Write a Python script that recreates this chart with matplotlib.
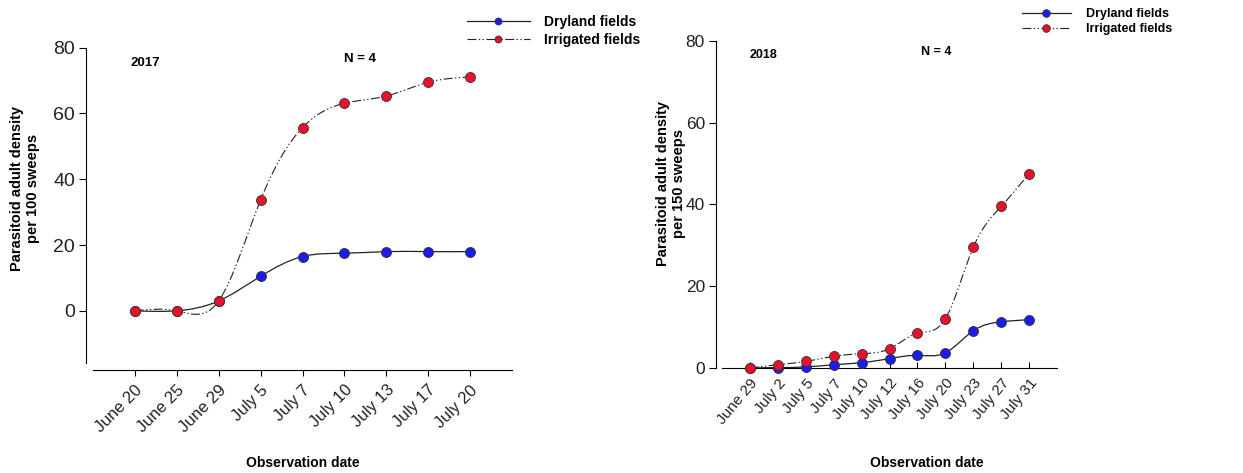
import numpy as np
import matplotlib
matplotlib.use("Agg")
import matplotlib.pyplot as plt
from matplotlib.path import Path
from matplotlib.patches import PathPatch
from matplotlib.lines import Line2D

# ---------------- data ----------------
dates_2017 = ["June 20", "June 25", "June 29", "July 5", "July 7", "July 10",
              "July 13", "July 17", "July 20"]
dryland_2017 = [0, 0, 3.0, 10.5, 16.5, 17.5, 18.0, 18.0, 18.0]
irrigated_2017 = [0, 0, 3.0, 33.7, 55.7, 63.1, 65.3, 69.5, 71.1]

dates_2018 = ["June 29", "July 2", "July 5", "July 7", "July 10", "July 12",
              "July 16", "July 20", "July 23", "July 27", "July 31"]
dryland_2018 = [0, 0.1, 0.25, 0.8, 1.3, 2.3, 3.1, 3.7, 9.1, 11.3, 11.8]
irrigated_2018 = [0, 0.8, 1.6, 2.85, 3.5, 4.7, 8.5, 12.0, 29.5, 39.5, 47.5]

BLUE = "#1c1ce8"
RED = "#e8102a"
IRR_DASH = (0, (8, 2.2, 1.2, 2.2, 1.2, 2.2))

W, H = 1243, 473
fig = plt.figure(figsize=(W / 100, H / 100), dpi=100)
plt.rcParams['font.family'] = ['Liberation Sans', 'DejaVu Sans']


def px(x, y):
    return x / W, 1 - y / H


def spline_path(x, y):
    """Smooth natural cubic spline through the points, as Bezier segments."""
    x = np.asarray(x, float)
    y = np.asarray(y, float)
    n = len(x)
    h = np.diff(x)
    A = np.zeros((n, n))
    b = np.zeros(n)
    A[0, 0] = 1
    A[-1, -1] = 1
    for i in range(1, n - 1):
        A[i, i - 1] = h[i - 1]
        A[i, i] = 2 * (h[i - 1] + h[i])
        A[i, i + 1] = h[i]
        b[i] = 6 * ((y[i + 1] - y[i]) / h[i] - (y[i] - y[i - 1]) / h[i - 1])
    M = np.linalg.solve(A, b)
    d = np.zeros(n)
    for i in range(n - 1):
        d[i] = (y[i + 1] - y[i]) / h[i] - h[i] * (2 * M[i] + M[i + 1]) / 6
    d[-1] = (y[-1] - y[-2]) / h[-1] + h[-1] * (M[-2] + 2 * M[-1]) / 6
    verts = [(x[0], y[0])]
    codes = [Path.MOVETO]
    for i in range(n - 1):
        verts += [(x[i] + h[i] / 3, y[i] + d[i] * h[i] / 3),
                  (x[i + 1] - h[i] / 3, y[i + 1] - d[i + 1] * h[i] / 3),
                  (x[i + 1], y[i + 1])]
        codes += [Path.CURVE4] * 3
    return Path(verts, codes)


def draw_series(ax, y, color, ls, lw):
    x = np.arange(len(y))
    ax.add_patch(PathPatch(spline_path(x, y), fill=False, edgecolor="#222222",
                           linestyle=ls, linewidth=lw, zorder=2))
    ax.plot(x, y, linestyle="none", marker="o", markersize=7.2,
            markerfacecolor=color, markeredgecolor="#333333",
            markeredgewidth=0.6, zorder=3, clip_on=False)


def style_axes(ax, labels, ylim, left_bounds, out_px, fs_x, rot, fs_y, xdir):
    ax.set_xlim(-1, len(labels))
    ax.set_ylim(*ylim)
    ax.set_xticks(np.arange(len(labels)))
    ax.set_xticklabels(labels, rotation=rot, ha="right", rotation_mode="anchor",
                       fontsize=fs_x)
    ax.set_yticks([0, 20, 40, 60, 80])
    ax.tick_params(axis="y", labelsize=fs_y, length=5, width=0.8, pad=3,
                   labelcolor="#222222")
    ax.tick_params(axis="x", length=4, width=0.8, pad=6 if xdir == "in" else 5,
                   labelcolor="#222222", direction=xdir)
    for s in ("top", "right"):
        ax.spines[s].set_visible(False)
    ax.spines["left"].set_position(("outward", out_px * 0.72))
    ax.spines["left"].set_bounds(*left_bounds)
    ax.spines["left"].set_linewidth(0.8)
    ax.spines["bottom"].set_linewidth(0.8)


# ---------------- 2017 panel ----------------
ax1 = fig.add_axes([93 / W, 103 / H, (512 - 93) / W, (370 - 47.7) / H])
draw_series(ax1, dryland_2017, BLUE, "-", 0.9)
draw_series(ax1, irrigated_2017, RED, IRR_DASH, 0.8)
style_axes(ax1, dates_2017, (-18, 80), (-16, 80), 7, 12, 45, 14, "out")

# ---------------- 2018 panel ----------------
ax2 = fig.add_axes([722 / W, 105 / H, (1057 - 722) / W, (368 - 40.7) / H])
draw_series(ax2, dryland_2018, BLUE, "-", 0.9)
draw_series(ax2, irrigated_2018, RED, IRR_DASH, 0.8)
style_axes(ax2, dates_2018, (0, 80), (0, 80), 6, 11, 50, 12.5, "in")

# ---------------- texts ----------------
fig.text(*px(145, 63), "2017", fontsize=9.5, fontweight="bold", ha="center", va="center")
fig.text(*px(360, 59), "N = 4", fontsize=9.5, fontweight="bold", ha="center", va="center")
fig.text(*px(763, 55), "2018", fontsize=9, fontweight="bold", ha="center", va="center")
fig.text(*px(936, 52), "N = 4", fontsize=9, fontweight="bold", ha="center", va="center")

fig.text(*px(25, 188), "Parasitoid adult density\nper 100 sweeps", rotation=90,
         fontsize=10.5, fontweight="bold", ha="center", va="center",
         multialignment="center", linespacing=1.15)
fig.text(*px(671, 184), "Parasitoid adult density\nper 150 sweeps", rotation=90,
         fontsize=10.5, fontweight="bold", ha="center", va="center",
         multialignment="center", linespacing=1.15)

fig.text(*px(303, 463), "Observation date", fontsize=10, fontweight="bold",
         ha="center", va="center")
fig.text(*px(927, 463), "Observation date", fontsize=10, fontweight="bold",
         ha="center", va="center")

# ---------------- legends ----------------
def handles(ms):
    h1 = Line2D([], [], color="#222222", lw=0.9, ls="-", marker="o", markersize=ms,
                markerfacecolor=BLUE, markeredgecolor="#333333", markeredgewidth=0.6)
    h2 = Line2D([], [], color="#222222", lw=0.8, ls=IRR_DASH, marker="o", markersize=ms,
                markerfacecolor=RED, markeredgecolor="#333333", markeredgewidth=0.6)
    return [h1, h2]

labels_leg = ["Dryland fields", "Irrigated fields"]
fig.legend(handles(5), labels_leg, loc="upper left", bbox_to_anchor=px(467, 15),
           frameon=False, borderpad=0, borderaxespad=0, handlelength=4.5,
           handletextpad=1.07, labelspacing=0.3,
           prop={"weight": "bold", "size": 10})
fig.legend(handles(5.5), labels_leg, loc="upper left", bbox_to_anchor=px(1022, 8),
           frameon=False, borderpad=0, borderaxespad=0, handlelength=3.9,
           handletextpad=1.25, labelspacing=0.25,
           prop={"weight": "bold", "size": 9})

fig.savefig("out.png", dpi=100)
